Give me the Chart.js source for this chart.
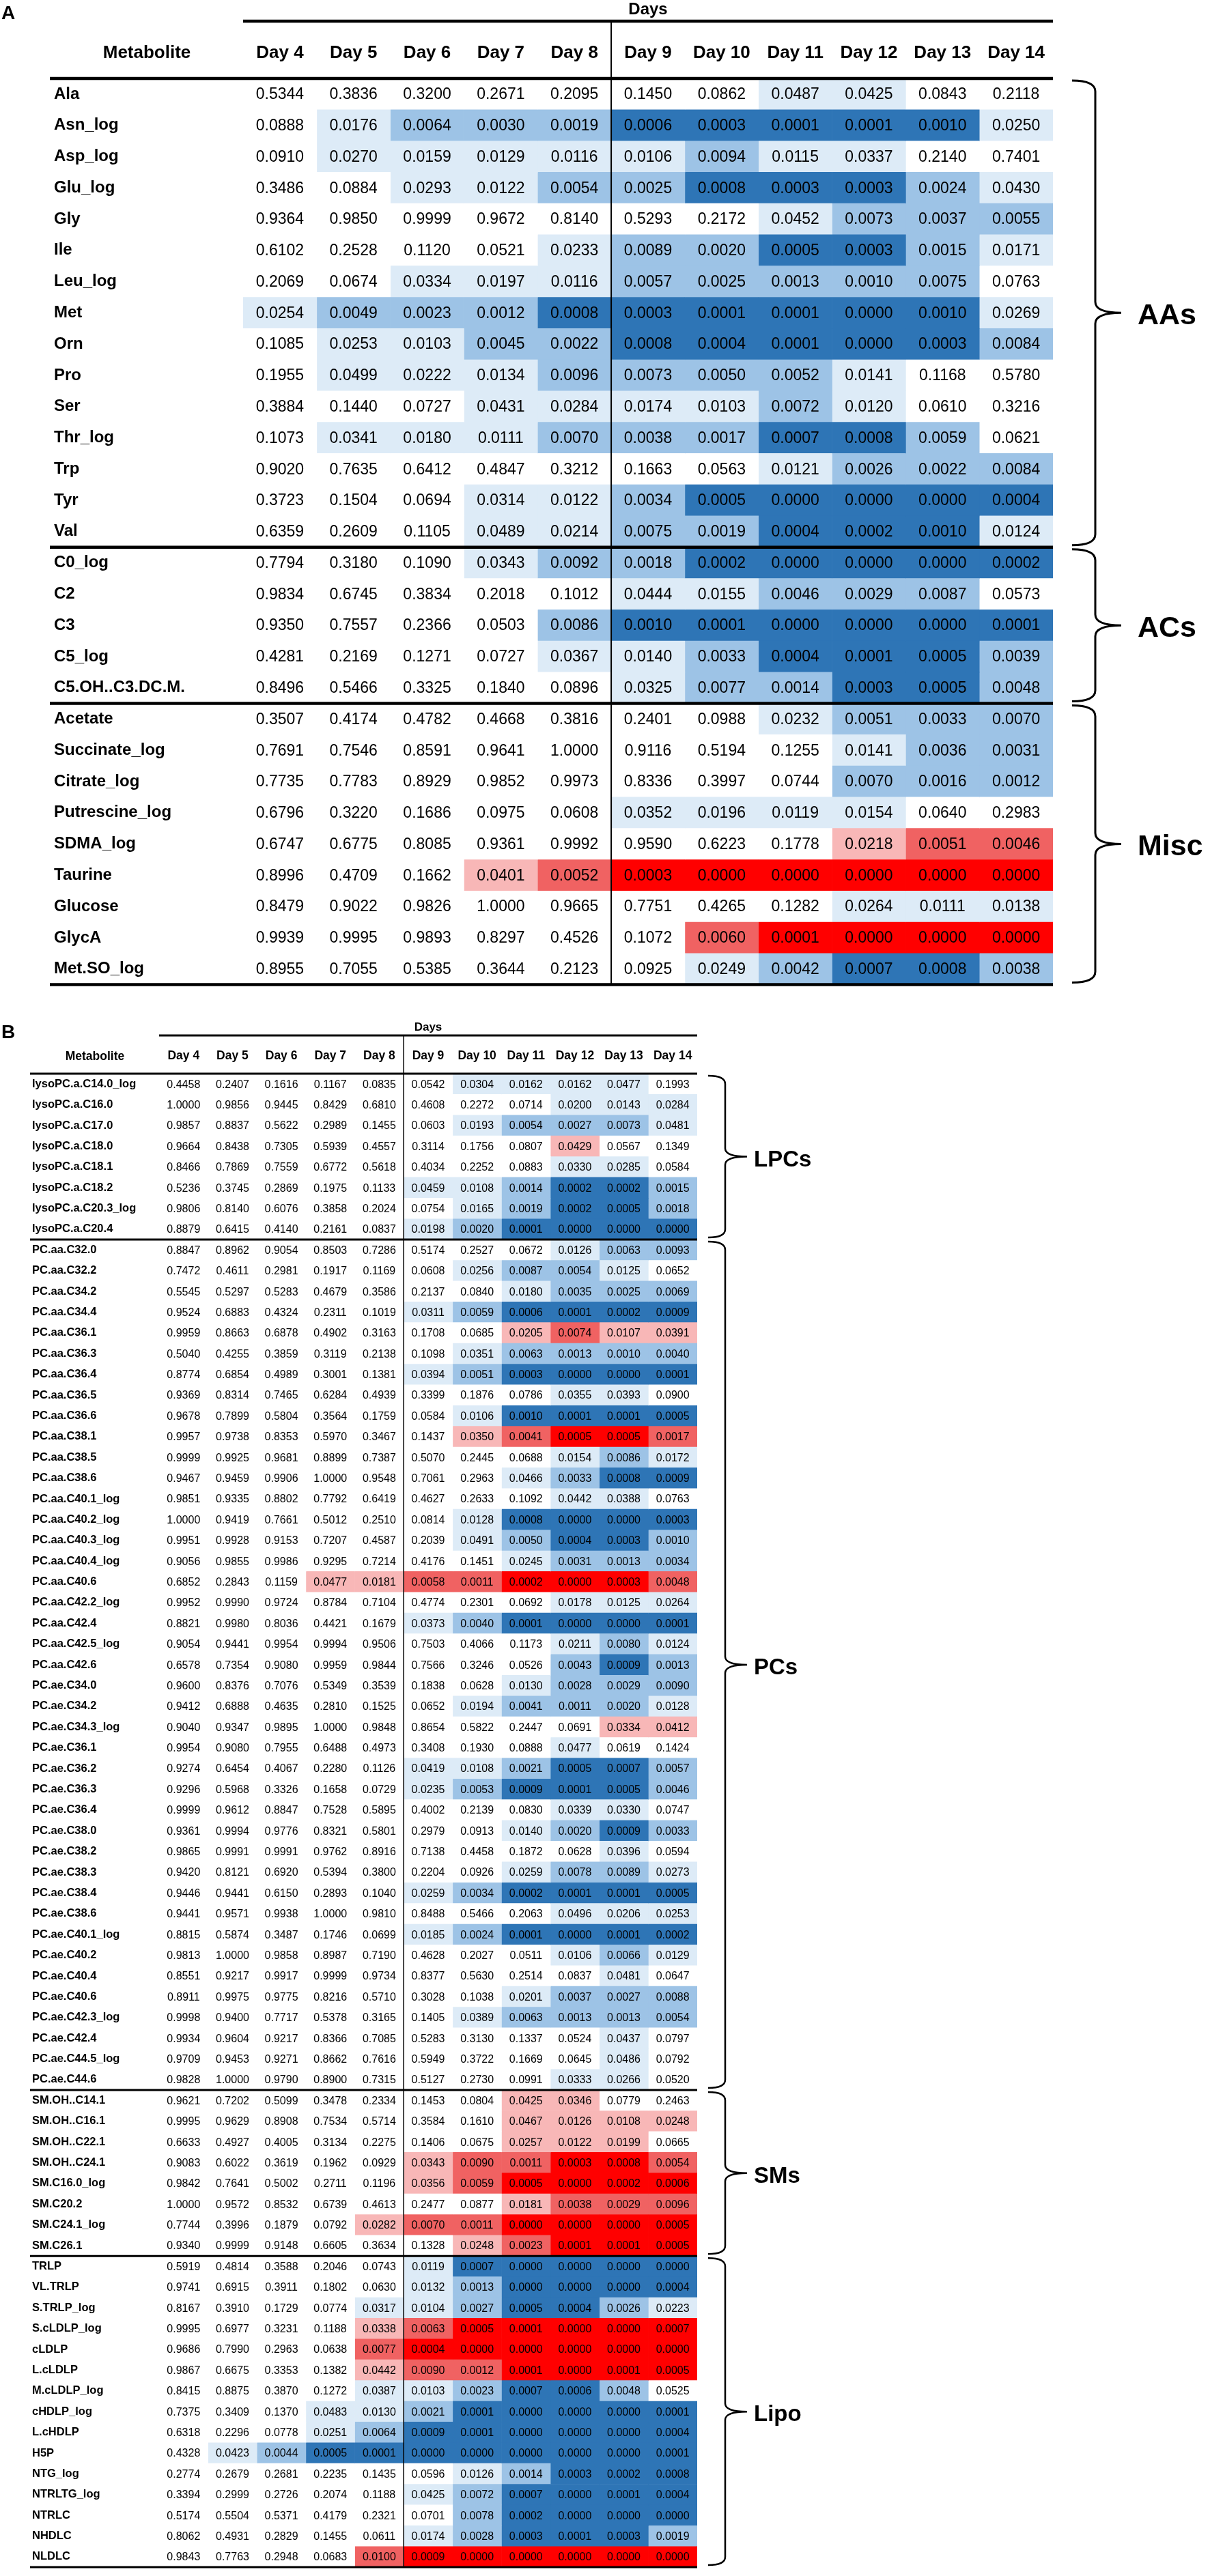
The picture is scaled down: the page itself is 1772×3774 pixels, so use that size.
<!DOCTYPE html>
<html>
<head>
<meta charset="utf-8">
<script src="https://cdn.jsdelivr.net/npm/chart.js@4.4.0/dist/chart.umd.min.js"></script>
<style>
  html, body { margin: 0; padding: 0; background: #fff; }
  body { width: 1772px; height: 3774px; position: relative; overflow: hidden; }
  canvas { position: absolute; left: 0; }
  #panelA { top: 0; }
  #panelB { top: 1460px; }
</style>
</head>
<body>
<canvas id="panelA" width="1772" height="1460"></canvas>
<canvas id="panelB" width="1772" height="2314"></canvas>
<script>
const days = ["Day 4", "Day 5", "Day 6", "Day 7", "Day 8", "Day 9", "Day 10", "Day 11", "Day 12", "Day 13", "Day 14"];

// ---- panel A: amino acids, acylcarnitines, misc ----
const metabolitesA = [
  "Ala", "Asn_log", "Asp_log", "Glu_log", "Gly", "Ile", "Leu_log", "Met", "Orn", "Pro", "Ser", "Thr_log", "Trp", "Tyr", "Val",
  "C0_log", "C2", "C3", "C5_log", "C5.OH..C3.DC.M.",
  "Acetate", "Succinate_log", "Citrate_log", "Putrescine_log", "SDMA_log", "Taurine", "Glucose", "GlycA", "Met.SO_log"
];
const groupNamesA = ["AAs", "ACs", "Misc"];
const groupSizesA = [15, 5, 9];
// rows whose significant cells are increases (red); all others are decreases (blue)
const upRowsA = ["SDMA_log", "Taurine", "GlycA"];
// p-values per row, Day 4 .. Day 14 (0.00098 / 0.00102 = values printed as 0.0010 either side of the cut)
const pValuesA = [
  [0.5344, 0.3836, 0.3200, 0.2671, 0.2095, 0.1450, 0.0862, 0.0487, 0.0425, 0.0843, 0.2118],
  [0.0888, 0.0176, 0.0064, 0.0030, 0.0019, 0.0006, 0.0003, 0.0001, 0.0001, 0.00098, 0.0250],
  [0.0910, 0.0270, 0.0159, 0.0129, 0.0116, 0.0106, 0.0094, 0.0115, 0.0337, 0.2140, 0.7401],
  [0.3486, 0.0884, 0.0293, 0.0122, 0.0054, 0.0025, 0.0008, 0.0003, 0.0003, 0.0024, 0.0430],
  [0.9364, 0.9850, 0.9999, 0.9672, 0.8140, 0.5293, 0.2172, 0.0452, 0.0073, 0.0037, 0.0055],
  [0.6102, 0.2528, 0.1120, 0.0521, 0.0233, 0.0089, 0.0020, 0.0005, 0.0003, 0.0015, 0.0171],
  [0.2069, 0.0674, 0.0334, 0.0197, 0.0116, 0.0057, 0.0025, 0.0013, 0.00102, 0.0075, 0.0763],
  [0.0254, 0.0049, 0.0023, 0.0012, 0.0008, 0.0003, 0.0001, 0.0001, 0.0000, 0.00098, 0.0269],
  [0.1085, 0.0253, 0.0103, 0.0045, 0.0022, 0.0008, 0.0004, 0.0001, 0.0000, 0.0003, 0.0084],
  [0.1955, 0.0499, 0.0222, 0.0134, 0.0096, 0.0073, 0.0050, 0.0052, 0.0141, 0.1168, 0.5780],
  [0.3884, 0.1440, 0.0727, 0.0431, 0.0284, 0.0174, 0.0103, 0.0072, 0.0120, 0.0610, 0.3216],
  [0.1073, 0.0341, 0.0180, 0.0111, 0.0070, 0.0038, 0.0017, 0.0007, 0.0008, 0.0059, 0.0621],
  [0.9020, 0.7635, 0.6412, 0.4847, 0.3212, 0.1663, 0.0563, 0.0121, 0.0026, 0.0022, 0.0084],
  [0.3723, 0.1504, 0.0694, 0.0314, 0.0122, 0.0034, 0.0005, 0.0000, 0.0000, 0.0000, 0.0004],
  [0.6359, 0.2609, 0.1105, 0.0489, 0.0214, 0.0075, 0.0019, 0.0004, 0.0002, 0.00098, 0.0124],
  [0.7794, 0.3180, 0.1090, 0.0343, 0.0092, 0.0018, 0.0002, 0.0000, 0.0000, 0.0000, 0.0002],
  [0.9834, 0.6745, 0.3834, 0.2018, 0.1012, 0.0444, 0.0155, 0.0046, 0.0029, 0.0087, 0.0573],
  [0.9350, 0.7557, 0.2366, 0.0503, 0.0086, 0.00098, 0.0001, 0.0000, 0.0000, 0.0000, 0.0001],
  [0.4281, 0.2169, 0.1271, 0.0727, 0.0367, 0.0140, 0.0033, 0.0004, 0.0001, 0.0005, 0.0039],
  [0.8496, 0.5466, 0.3325, 0.1840, 0.0896, 0.0325, 0.0077, 0.0014, 0.0003, 0.0005, 0.0048],
  [0.3507, 0.4174, 0.4782, 0.4668, 0.3816, 0.2401, 0.0988, 0.0232, 0.0051, 0.0033, 0.0070],
  [0.7691, 0.7546, 0.8591, 0.9641, 1.0000, 0.9116, 0.5194, 0.1255, 0.0141, 0.0036, 0.0031],
  [0.7735, 0.7783, 0.8929, 0.9852, 0.9973, 0.8336, 0.3997, 0.0744, 0.0070, 0.0016, 0.0012],
  [0.6796, 0.3220, 0.1686, 0.0975, 0.0608, 0.0352, 0.0196, 0.0119, 0.0154, 0.0640, 0.2983],
  [0.6747, 0.6775, 0.8085, 0.9361, 0.9992, 0.9590, 0.6223, 0.1778, 0.0218, 0.0051, 0.0046],
  [0.8996, 0.4709, 0.1662, 0.0401, 0.0052, 0.0003, 0.0000, 0.0000, 0.0000, 0.0000, 0.0000],
  [0.8479, 0.9022, 0.9826, 1.0000, 0.9665, 0.7751, 0.4265, 0.1282, 0.0264, 0.0111, 0.0138],
  [0.9939, 0.9995, 0.9893, 0.8297, 0.4526, 0.1072, 0.0060, 0.0001, 0.0000, 0.0000, 0.0000],
  [0.8955, 0.7055, 0.5385, 0.3644, 0.2123, 0.0925, 0.0249, 0.0042, 0.0007, 0.0008, 0.0038]
];

// ---- panel B: lipids and lipoproteins ----
const metabolitesB = [
  "lysoPC.a.C14.0_log", "lysoPC.a.C16.0", "lysoPC.a.C17.0", "lysoPC.a.C18.0", "lysoPC.a.C18.1", "lysoPC.a.C18.2", "lysoPC.a.C20.3_log", "lysoPC.a.C20.4",
  "PC.aa.C32.0", "PC.aa.C32.2", "PC.aa.C34.2", "PC.aa.C34.4", "PC.aa.C36.1", "PC.aa.C36.3", "PC.aa.C36.4", "PC.aa.C36.5", "PC.aa.C36.6",
  "PC.aa.C38.1", "PC.aa.C38.5", "PC.aa.C38.6", "PC.aa.C40.1_log", "PC.aa.C40.2_log", "PC.aa.C40.3_log", "PC.aa.C40.4_log", "PC.aa.C40.6",
  "PC.aa.C42.2_log", "PC.aa.C42.4", "PC.aa.C42.5_log", "PC.aa.C42.6",
  "PC.ae.C34.0", "PC.ae.C34.2", "PC.ae.C34.3_log", "PC.ae.C36.1", "PC.ae.C36.2", "PC.ae.C36.3", "PC.ae.C36.4", "PC.ae.C38.0", "PC.ae.C38.2",
  "PC.ae.C38.3", "PC.ae.C38.4", "PC.ae.C38.6", "PC.ae.C40.1_log", "PC.ae.C40.2", "PC.ae.C40.4", "PC.ae.C40.6", "PC.ae.C42.3_log", "PC.ae.C42.4",
  "PC.ae.C44.5_log", "PC.ae.C44.6",
  "SM.OH..C14.1", "SM.OH..C16.1", "SM.OH..C22.1", "SM.OH..C24.1", "SM.C16.0_log", "SM.C20.2", "SM.C24.1_log", "SM.C26.1",
  "TRLP", "VL.TRLP", "S.TRLP_log", "S.cLDLP_log", "cLDLP", "L.cLDLP", "M.cLDLP_log", "cHDLP_log", "L.cHDLP", "H5P",
  "NTG_log", "NTRLTG_log", "NTRLC", "NHDLC", "NLDLC"
];
const groupNamesB = ["LPCs", "PCs", "SMs", "Lipo"];
const groupSizesB = [8, 41, 8, 15];
const upRowsB = [
  "lysoPC.a.C18.0", "PC.aa.C36.1", "PC.aa.C38.1", "PC.aa.C40.6", "PC.ae.C34.3_log",
  "SM.OH..C14.1", "SM.OH..C16.1", "SM.OH..C22.1", "SM.OH..C24.1", "SM.C16.0_log", "SM.C20.2", "SM.C24.1_log", "SM.C26.1",
  "S.cLDLP_log", "cLDLP", "L.cLDLP", "NLDLC"
];
const pValuesB = [
  [0.4458, 0.2407, 0.1616, 0.1167, 0.0835, 0.0542, 0.0304, 0.0162, 0.0162, 0.0477, 0.1993],
  [1.0000, 0.9856, 0.9445, 0.8429, 0.6810, 0.4608, 0.2272, 0.0714, 0.0200, 0.0143, 0.0284],
  [0.9857, 0.8837, 0.5622, 0.2989, 0.1455, 0.0603, 0.0193, 0.0054, 0.0027, 0.0073, 0.0481],
  [0.9664, 0.8438, 0.7305, 0.5939, 0.4557, 0.3114, 0.1756, 0.0807, 0.0429, 0.0567, 0.1349],
  [0.8466, 0.7869, 0.7559, 0.6772, 0.5618, 0.4034, 0.2252, 0.0883, 0.0330, 0.0285, 0.0584],
  [0.5236, 0.3745, 0.2869, 0.1975, 0.1133, 0.0459, 0.0108, 0.0014, 0.0002, 0.0002, 0.0015],
  [0.9806, 0.8140, 0.6076, 0.3858, 0.2024, 0.0754, 0.0165, 0.0019, 0.0002, 0.0005, 0.0018],
  [0.8879, 0.6415, 0.4140, 0.2161, 0.0837, 0.0198, 0.0020, 0.0001, 0.0000, 0.0000, 0.0000],
  [0.8847, 0.8962, 0.9054, 0.8503, 0.7286, 0.5174, 0.2527, 0.0672, 0.0126, 0.0063, 0.0093],
  [0.7472, 0.4611, 0.2981, 0.1917, 0.1169, 0.0608, 0.0256, 0.0087, 0.0054, 0.0125, 0.0652],
  [0.5545, 0.5297, 0.5283, 0.4679, 0.3586, 0.2137, 0.0840, 0.0180, 0.0035, 0.0025, 0.0069],
  [0.9524, 0.6883, 0.4324, 0.2311, 0.1019, 0.0311, 0.0059, 0.0006, 0.0001, 0.0002, 0.0009],
  [0.9959, 0.8663, 0.6878, 0.4902, 0.3163, 0.1708, 0.0685, 0.0205, 0.0074, 0.0107, 0.0391],
  [0.5040, 0.4255, 0.3859, 0.3119, 0.2138, 0.1098, 0.0351, 0.0063, 0.0013, 0.00102, 0.0040],
  [0.8774, 0.6854, 0.4989, 0.3001, 0.1381, 0.0394, 0.0051, 0.0003, 0.0000, 0.0000, 0.0001],
  [0.9369, 0.8314, 0.7465, 0.6284, 0.4939, 0.3399, 0.1876, 0.0786, 0.0355, 0.0393, 0.0900],
  [0.9678, 0.7899, 0.5804, 0.3564, 0.1759, 0.0584, 0.0106, 0.00098, 0.0001, 0.0001, 0.0005],
  [0.9957, 0.9738, 0.8353, 0.5970, 0.3467, 0.1437, 0.0350, 0.0041, 0.0005, 0.0005, 0.0017],
  [0.9999, 0.9925, 0.9681, 0.8899, 0.7387, 0.5070, 0.2445, 0.0688, 0.0154, 0.0086, 0.0172],
  [0.9467, 0.9459, 0.9906, 1.0000, 0.9548, 0.7061, 0.2963, 0.0466, 0.0033, 0.0008, 0.0009],
  [0.9851, 0.9335, 0.8802, 0.7792, 0.6419, 0.4627, 0.2633, 0.1092, 0.0442, 0.0388, 0.0763],
  [1.0000, 0.9419, 0.7661, 0.5012, 0.2510, 0.0814, 0.0128, 0.0008, 0.0000, 0.0000, 0.0003],
  [0.9951, 0.9928, 0.9153, 0.7207, 0.4587, 0.2039, 0.0491, 0.0050, 0.0004, 0.0003, 0.00102],
  [0.9056, 0.9855, 0.9986, 0.9295, 0.7214, 0.4176, 0.1451, 0.0245, 0.0031, 0.0013, 0.0034],
  [0.6852, 0.2843, 0.1159, 0.0477, 0.0181, 0.0058, 0.0011, 0.0002, 0.0000, 0.0003, 0.0048],
  [0.9952, 0.9990, 0.9724, 0.8784, 0.7104, 0.4774, 0.2301, 0.0692, 0.0178, 0.0125, 0.0264],
  [0.8821, 0.9980, 0.8036, 0.4421, 0.1679, 0.0373, 0.0040, 0.0001, 0.0000, 0.0000, 0.0001],
  [0.9054, 0.9441, 0.9954, 0.9994, 0.9506, 0.7503, 0.4066, 0.1173, 0.0211, 0.0080, 0.0124],
  [0.6578, 0.7354, 0.9080, 0.9959, 0.9844, 0.7566, 0.3246, 0.0526, 0.0043, 0.0009, 0.0013],
  [0.9600, 0.8376, 0.7076, 0.5349, 0.3539, 0.1838, 0.0628, 0.0130, 0.0028, 0.0029, 0.0090],
  [0.9412, 0.6888, 0.4635, 0.2810, 0.1525, 0.0652, 0.0194, 0.0041, 0.0011, 0.0020, 0.0128],
  [0.9040, 0.9347, 0.9895, 1.0000, 0.9848, 0.8654, 0.5822, 0.2447, 0.0691, 0.0334, 0.0412],
  [0.9954, 0.9080, 0.7955, 0.6488, 0.4973, 0.3408, 0.1930, 0.0888, 0.0477, 0.0619, 0.1424],
  [0.9274, 0.6454, 0.4067, 0.2280, 0.1126, 0.0419, 0.0108, 0.0021, 0.0005, 0.0007, 0.0057],
  [0.9296, 0.5968, 0.3326, 0.1658, 0.0729, 0.0235, 0.0053, 0.0009, 0.0001, 0.0005, 0.0046],
  [0.9999, 0.9612, 0.8847, 0.7528, 0.5895, 0.4002, 0.2139, 0.0830, 0.0339, 0.0330, 0.0747],
  [0.9361, 0.9994, 0.9776, 0.8321, 0.5801, 0.2979, 0.0913, 0.0140, 0.0020, 0.0009, 0.0033],
  [0.9865, 0.9991, 0.9991, 0.9762, 0.8916, 0.7138, 0.4458, 0.1872, 0.0628, 0.0396, 0.0594],
  [0.9420, 0.8121, 0.6920, 0.5394, 0.3800, 0.2204, 0.0926, 0.0259, 0.0078, 0.0089, 0.0273],
  [0.9446, 0.9441, 0.6150, 0.2893, 0.1040, 0.0259, 0.0034, 0.0002, 0.0001, 0.0001, 0.0005],
  [0.9441, 0.9571, 0.9938, 1.0000, 0.9810, 0.8488, 0.5466, 0.2063, 0.0496, 0.0206, 0.0253],
  [0.8815, 0.5874, 0.3487, 0.1746, 0.0699, 0.0185, 0.0024, 0.0001, 0.0000, 0.0001, 0.0002],
  [0.9813, 1.0000, 0.9858, 0.8987, 0.7190, 0.4628, 0.2027, 0.0511, 0.0106, 0.0066, 0.0129],
  [0.8551, 0.9217, 0.9917, 0.9999, 0.9734, 0.8377, 0.5630, 0.2514, 0.0837, 0.0481, 0.0647],
  [0.8911, 0.9975, 0.9775, 0.8216, 0.5710, 0.3028, 0.1038, 0.0201, 0.0037, 0.0027, 0.0088],
  [0.9998, 0.9400, 0.7717, 0.5378, 0.3165, 0.1405, 0.0389, 0.0063, 0.0013, 0.0013, 0.0054],
  [0.9934, 0.9604, 0.9217, 0.8366, 0.7085, 0.5283, 0.3130, 0.1337, 0.0524, 0.0437, 0.0797],
  [0.9709, 0.9453, 0.9271, 0.8662, 0.7616, 0.5949, 0.3722, 0.1669, 0.0645, 0.0486, 0.0792],
  [0.9828, 1.0000, 0.9790, 0.8900, 0.7315, 0.5127, 0.2730, 0.0991, 0.0333, 0.0266, 0.0520],
  [0.9621, 0.7202, 0.5099, 0.3478, 0.2334, 0.1453, 0.0804, 0.0425, 0.0346, 0.0779, 0.2463],
  [0.9995, 0.9629, 0.8908, 0.7534, 0.5714, 0.3584, 0.1610, 0.0467, 0.0126, 0.0108, 0.0248],
  [0.6633, 0.4927, 0.4005, 0.3134, 0.2275, 0.1406, 0.0675, 0.0257, 0.0122, 0.0199, 0.0665],
  [0.9083, 0.6022, 0.3619, 0.1962, 0.0929, 0.0343, 0.0090, 0.0011, 0.0003, 0.0008, 0.0054],
  [0.9842, 0.7641, 0.5002, 0.2711, 0.1196, 0.0356, 0.0059, 0.0005, 0.0000, 0.0002, 0.0006],
  [1.0000, 0.9572, 0.8532, 0.6739, 0.4613, 0.2477, 0.0877, 0.0181, 0.0038, 0.0029, 0.0096],
  [0.7744, 0.3996, 0.1879, 0.0792, 0.0282, 0.0070, 0.0011, 0.0000, 0.0000, 0.0000, 0.0005],
  [0.9340, 0.9999, 0.9148, 0.6605, 0.3634, 0.1328, 0.0248, 0.0023, 0.0001, 0.0001, 0.0005],
  [0.5919, 0.4814, 0.3588, 0.2046, 0.0743, 0.0119, 0.0007, 0.0000, 0.0000, 0.0000, 0.0000],
  [0.9741, 0.6915, 0.3911, 0.1802, 0.0630, 0.0132, 0.0013, 0.0000, 0.0000, 0.0000, 0.0004],
  [0.8167, 0.3910, 0.1729, 0.0774, 0.0317, 0.0104, 0.0027, 0.0005, 0.0004, 0.0026, 0.0223],
  [0.9995, 0.6977, 0.3231, 0.1188, 0.0338, 0.0063, 0.0005, 0.0001, 0.0000, 0.0000, 0.0007],
  [0.9686, 0.7990, 0.2963, 0.0638, 0.0077, 0.0004, 0.0000, 0.0000, 0.0000, 0.0000, 0.0000],
  [0.9867, 0.6675, 0.3353, 0.1382, 0.0442, 0.0090, 0.0012, 0.0001, 0.0000, 0.0001, 0.0005],
  [0.8415, 0.8875, 0.3870, 0.1272, 0.0387, 0.0103, 0.0023, 0.0007, 0.0006, 0.0048, 0.0525],
  [0.7375, 0.3409, 0.1370, 0.0483, 0.0130, 0.0021, 0.0001, 0.0000, 0.0000, 0.0000, 0.0001],
  [0.6318, 0.2296, 0.0778, 0.0251, 0.0064, 0.0009, 0.0001, 0.0000, 0.0000, 0.0000, 0.0004],
  [0.4328, 0.0423, 0.0044, 0.0005, 0.0001, 0.0000, 0.0000, 0.0000, 0.0000, 0.0000, 0.0001],
  [0.2774, 0.2679, 0.2681, 0.2235, 0.1435, 0.0596, 0.0126, 0.0014, 0.0003, 0.0002, 0.0008],
  [0.3394, 0.2999, 0.2726, 0.2074, 0.1188, 0.0425, 0.0072, 0.0007, 0.0000, 0.0001, 0.0004],
  [0.5174, 0.5504, 0.5371, 0.4179, 0.2321, 0.0701, 0.0078, 0.0002, 0.0000, 0.0000, 0.0000],
  [0.8062, 0.4931, 0.2829, 0.1455, 0.0611, 0.0174, 0.0028, 0.0003, 0.0001, 0.0003, 0.0019],
  [0.9843, 0.7763, 0.2948, 0.0683, 0.00998, 0.0009, 0.0000, 0.0000, 0.0000, 0.0000, 0.0000]
];

const FONT = "'Liberation Sans', Arial, sans-serif";
const blueShades = ["#FFFFFF", "#DDEBF7", "#9DC3E6", "#2E75B6"];
const redShades = ["#FFFFFF", "#F8B7B7", "#F06262", "#FF0000"];

function cellColor(p, up) {
  const lvl = p < 0.001 ? 3 : p < 0.01 ? 2 : p < 0.05 ? 1 : 0;
  return (up ? redShades : blueShades)[lvl];
}

function brace(ctx, x0, x1, tip, top, bot, r) {
  const mid = (top + bot) / 2;
  ctx.beginPath();
  ctx.moveTo(x0, top);
  ctx.quadraticCurveTo(x1, top, x1, top + r);
  ctx.lineTo(x1, mid - r);
  ctx.quadraticCurveTo(x1, mid, tip, mid);
  ctx.quadraticCurveTo(x1, mid, x1, mid + r);
  ctx.lineTo(x1, bot - r);
  ctx.quadraticCurveTo(x1, bot, x0, bot);
  ctx.stroke();
}

// draws the p-values in the cells, the rules, braces and the extra header text
const tableDeco = {
  id: "tableDeco",
  afterDatasetsDraw(chart, args, o) {
    const ctx = chart.ctx;
    ctx.save();
    ctx.font = o.valueFont;
    ctx.fillStyle = "#000";
    ctx.textAlign = "center";
    ctx.textBaseline = "middle";
    chart.data.datasets.forEach((ds, di) => {
      chart.getDatasetMeta(di).data.forEach((bar, ri) => {
        const { x, y, base } = bar.getProps(["x", "y", "base"], true);
        ctx.fillText(o.values[ri][di].toFixed(4), (x + base) / 2, y + 1);
      });
    });
    ctx.restore();
  },
  afterDraw(chart, args, o) {
    const { ctx, chartArea: area, scales: { x, y } } = chart;
    const n = chart.data.labels.length;
    const rowEdge = (k) => k <= 0 ? area.top : k >= n ? area.bottom
      : (y.getPixelForValue(k - 1) + y.getPixelForValue(k)) / 2;
    const line = (x1, y1, x2, y2) => { ctx.beginPath(); ctx.moveTo(x1, y1); ctx.lineTo(x2, y2); ctx.stroke(); };
    ctx.save();
    ctx.strokeStyle = "#000";
    ctx.lineCap = "butt";

    ctx.lineWidth = o.thinLine;
    const split = x.getPixelForValue(5);
    line(split, o.daysLineY, split, area.bottom);

    ctx.lineWidth = o.thickLine;
    line(area.left, o.daysLineY, area.right, o.daysLineY);
    line(o.tableLeft, area.top, area.right, area.top);
    let k = 0;
    o.groupSizes.forEach((s) => {
      k += s;
      const yy = rowEdge(k);
      line(o.tableLeft, yy, area.right, yy);
    });

    ctx.lineWidth = o.braceLine;
    ctx.fillStyle = "#000";
    ctx.textAlign = "left";
    ctx.textBaseline = "middle";
    ctx.font = o.groupFont;
    k = 0;
    o.groupSizes.forEach((s, gi) => {
      const top = rowEdge(k) + 3, bot = rowEdge(k + s) - 3;
      brace(ctx, o.brace[0], o.brace[1], o.brace[2], top, bot, o.brace[3]);
      ctx.fillText(o.groupNames[gi], o.groupLabelX, (top + bot) / 2 + 5);
      k += s;
    });

    ctx.font = o.headFont;
    ctx.textAlign = "center";
    ctx.fillText("Metabolite", o.headX, o.headY);

    ctx.font = o.letterFont;
    ctx.textAlign = "left";
    ctx.fillText(o.letter, 2, o.letterY);
    ctx.restore();
  }
};

function buildTable(id, cfg) {
  return new Chart(document.getElementById(id), {
    type: "bar",
    plugins: [tableDeco],
    data: {
      labels: cfg.metabolites,
      // each day is one unit-wide stacked segment, so every cell is a bar
      datasets: days.map((d, di) => ({
        label: d,
        data: cfg.metabolites.map(() => 1),
        backgroundColor: (c) => c.type !== "data" ? "#FFFFFF"
          : cellColor(cfg.values[c.dataIndex][di], cfg.upRows.includes(cfg.metabolites[c.dataIndex])),
        borderWidth: 0,
        barPercentage: 1,
        categoryPercentage: 1
      }))
    },
    options: {
      indexAxis: "y",
      responsive: false,
      maintainAspectRatio: false,
      animation: false,
      events: [],
      layout: { padding: cfg.padding },
      plugins: {
        legend: { display: false },
        tooltip: { enabled: false },
        tableDeco: cfg.deco
      },
      scales: {
        x: {
          type: "linear",
          position: "top",
          stacked: true,
          min: 0,
          max: days.length,
          grid: { display: false, drawTicks: false },
          border: { display: false },
          afterBuildTicks: (s) => { s.ticks = days.map((d, i) => ({ value: i + 0.5 })); },
          afterFit: (s) => { s.height = cfg.headerHeight; },
          ticks: {
            autoSkip: false,
            maxRotation: 0,
            padding: cfg.tickPad,
            color: "#000",
            font: { family: FONT, size: cfg.headSize, weight: "bold" },
            callback: (v, i) => days[i]
          },
          title: {
            display: true,
            text: "Days",
            color: "#000",
            font: { family: FONT, size: cfg.daysSize, weight: "bold" },
            padding: { top: cfg.titlePad, bottom: 0 }
          }
        },
        y: {
          type: "category",
          stacked: true,
          grid: { display: false, drawTicks: false },
          border: { display: false },
          afterFit: (s) => { s.width = cfg.labelWidth; },
          ticks: {
            autoSkip: false,
            crossAlign: "far",
            color: "#000",
            font: { family: FONT, size: cfg.labelSize, weight: "bold" }
          }
        }
      }
    }
  });
}

buildTable("panelA", {
  metabolites: metabolitesA,
  values: pValuesA,
  upRows: upRowsA,
  padding: { left: 79, right: 230, top: 0, bottom: 13 },
  headerHeight: 115,
  labelWidth: 277,
  tickPad: 22,
  titlePad: 0,
  headSize: 26,
  daysSize: 24,
  labelSize: 24,
  deco: {
    values: pValuesA,
    groupNames: groupNamesA,
    groupSizes: groupSizesA,
    valueFont: "23px " + FONT,
    groupFont: "bold 43px " + FONT,
    headFont: "bold 26px " + FONT,
    letterFont: "bold 28px " + FONT,
    letter: "A",
    letterY: 20,
    headX: 215,
    headY: 78,
    daysLineY: 31,
    tableLeft: 73,
    thickLine: 4.5,
    thinLine: 2,
    braceLine: 3,
    brace: [1570, 1604, 1642, 16],
    groupLabelX: 1666
  }
});

buildTable("panelB", {
  metabolites: metabolitesB,
  values: pValuesB,
  upRows: upRowsB,
  padding: { left: 47, right: 751, top: 30, bottom: 5 },
  headerHeight: 83,
  labelWidth: 186,
  tickPad: 15,
  titlePad: 5,
  headSize: 17.5,
  daysSize: 17,
  labelSize: 16.5,
  deco: {
    values: pValuesB,
    groupNames: groupNamesB,
    groupSizes: groupSizesB,
    valueFont: "16px " + FONT,
    groupFont: "bold 33px " + FONT,
    headFont: "bold 17.5px " + FONT,
    letterFont: "bold 28px " + FONT,
    letter: "B",
    letterY: 53,
    headX: 139,
    headY: 88,
    daysLineY: 57,
    tableLeft: 44,
    thickLine: 3,
    thinLine: 1.5,
    braceLine: 2.5,
    brace: [1037, 1062, 1094, 12],
    groupLabelX: 1104
  }
});
</script>
</body>
</html>
